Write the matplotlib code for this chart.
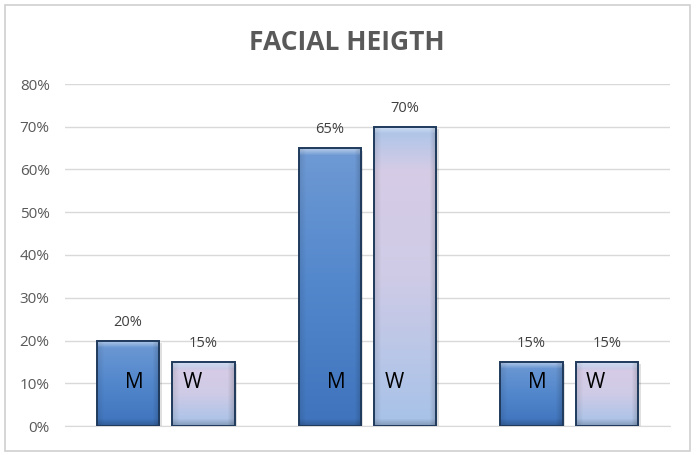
import numpy as np
import matplotlib.pyplot as plt
from matplotlib.colors import to_rgb
from matplotlib.patches import Rectangle

# data
categories = ['A', 'B', 'C']
men = [0.20, 0.65, 0.15]
women = [0.15, 0.70, 0.15]
series_labels = ['M', 'W']

plt.rcParams['font.family'] = ['Open Sans', 'DejaVu Sans']

fig = plt.figure(figsize=(6.98, 4.55), dpi=100)
ax = fig.add_axes([65 / 698, 29 / 455, 605 / 698, 342 / 455])

# chart border
fig.patches.append(Rectangle((5 / 698, 4 / 455), 685 / 698, 446 / 455,
                             transform=fig.transFigure, fill=False,
                             edgecolor='#d0d0d0', linewidth=1.2))

x = np.arange(len(categories))
width = 0.31
offset = 0.187


def gradient_img(stops, h, w, bevel=7):
    # vertical gradient from stops (pos, colour), top = 0
    pos = np.array([s[0] for s in stops])
    cols = np.array([to_rgb(s[1]) for s in stops])
    t = np.linspace(0, 1, h)
    img = np.zeros((h, w, 3))
    for c in range(3):
        img[:, :, c] = np.interp(t, pos, cols[:, c])[:, None]
    b = min(bevel, h // 3)
    for i in range(b):
        k = 1 - i / b
        img[i, :, :] = img[i, :, :] + (1 - img[i, :, :]) * 0.5 * k
        img[h - 1 - i, :, :] *= 1 - 0.2 * k
        img[:, w - 1 - i, :] *= 1 - 0.18 * k
        img[:, i, :] *= 1 - 0.1 * k
    return np.clip(img, 0, 1)


m_stops = [(0, '#6f9ad4'), (0.5, '#5287cc'), (1, '#3f74bd')]
w_stops = [(0, '#a9c4e8'), (0.15, '#d6cce6'), (0.5, '#cfcbe6'), (1, '#a6c2e8')]

px_per_unit = 427.5
bars = []
for vals, off, stops in [(men, -offset, m_stops), (women, offset, w_stops)]:
    bc = ax.bar(x + off, vals, width, facecolor='none', edgecolor='#1f3a5c',
                linewidth=1.4, zorder=4)
    bars.append(bc)
    for rect in bc:
        x0, y0 = rect.get_x(), rect.get_y()
        w, h = rect.get_width(), rect.get_height()
        # soft shadow
        ax.add_patch(Rectangle((x0 + 0.012, y0 - 0.006), w, h, facecolor='#000000',
                               alpha=0.12, edgecolor='none', zorder=2))
        img = gradient_img(stops, max(int(h * px_per_unit), 10), 63)
        ax.imshow(img, extent=(x0, x0 + w, y0, y0 + h), aspect='auto',
                  origin='upper', zorder=3, interpolation='bilinear')

# value labels
for bc, vals in zip(bars, [men, women]):
    for rect, v in zip(bc, vals):
        ax.text(rect.get_x() + rect.get_width() / 2, v + 0.025, f'{v:.0%}',
                ha='center', va='bottom', fontsize=10.5, color='#404040', zorder=5)

# series letters inside bars
for i in x:
    ax.text(i - offset + 0.03, 0.101, series_labels[0], ha='center', va='center',
            fontsize=15, color='#000000', zorder=5)
    ax.text(i + offset - 0.055, 0.101, series_labels[1], ha='center', va='center',
            fontsize=15, color='#000000', zorder=5)

ax.set_xlim(-0.5, 2.5)
ax.set_ylim(0, 0.8)
ax.set_yticks(np.arange(0, 0.81, 0.1))
ax.set_yticklabels([f'{int(round(t * 100))}%' for t in np.arange(0, 0.81, 0.1)])
ax.set_xticks([])
ax.tick_params(axis='y', length=0, pad=11, labelsize=11, labelcolor='#595959')
ax.grid(axis='y', color='#d9d9d9', linewidth=1, zorder=0)
ax.set_axisbelow(True)
for s in ['top', 'right', 'left']:
    ax.spines[s].set_visible(False)
ax.spines['bottom'].set_color('#d9d9d9')

fig.text(347 / 698, 1 - 42 / 455, 'FACIAL HEIGTH', ha='center', va='center',
         fontsize=19, fontweight='bold', color='#595959')

fig.savefig('out.png', dpi=100)
